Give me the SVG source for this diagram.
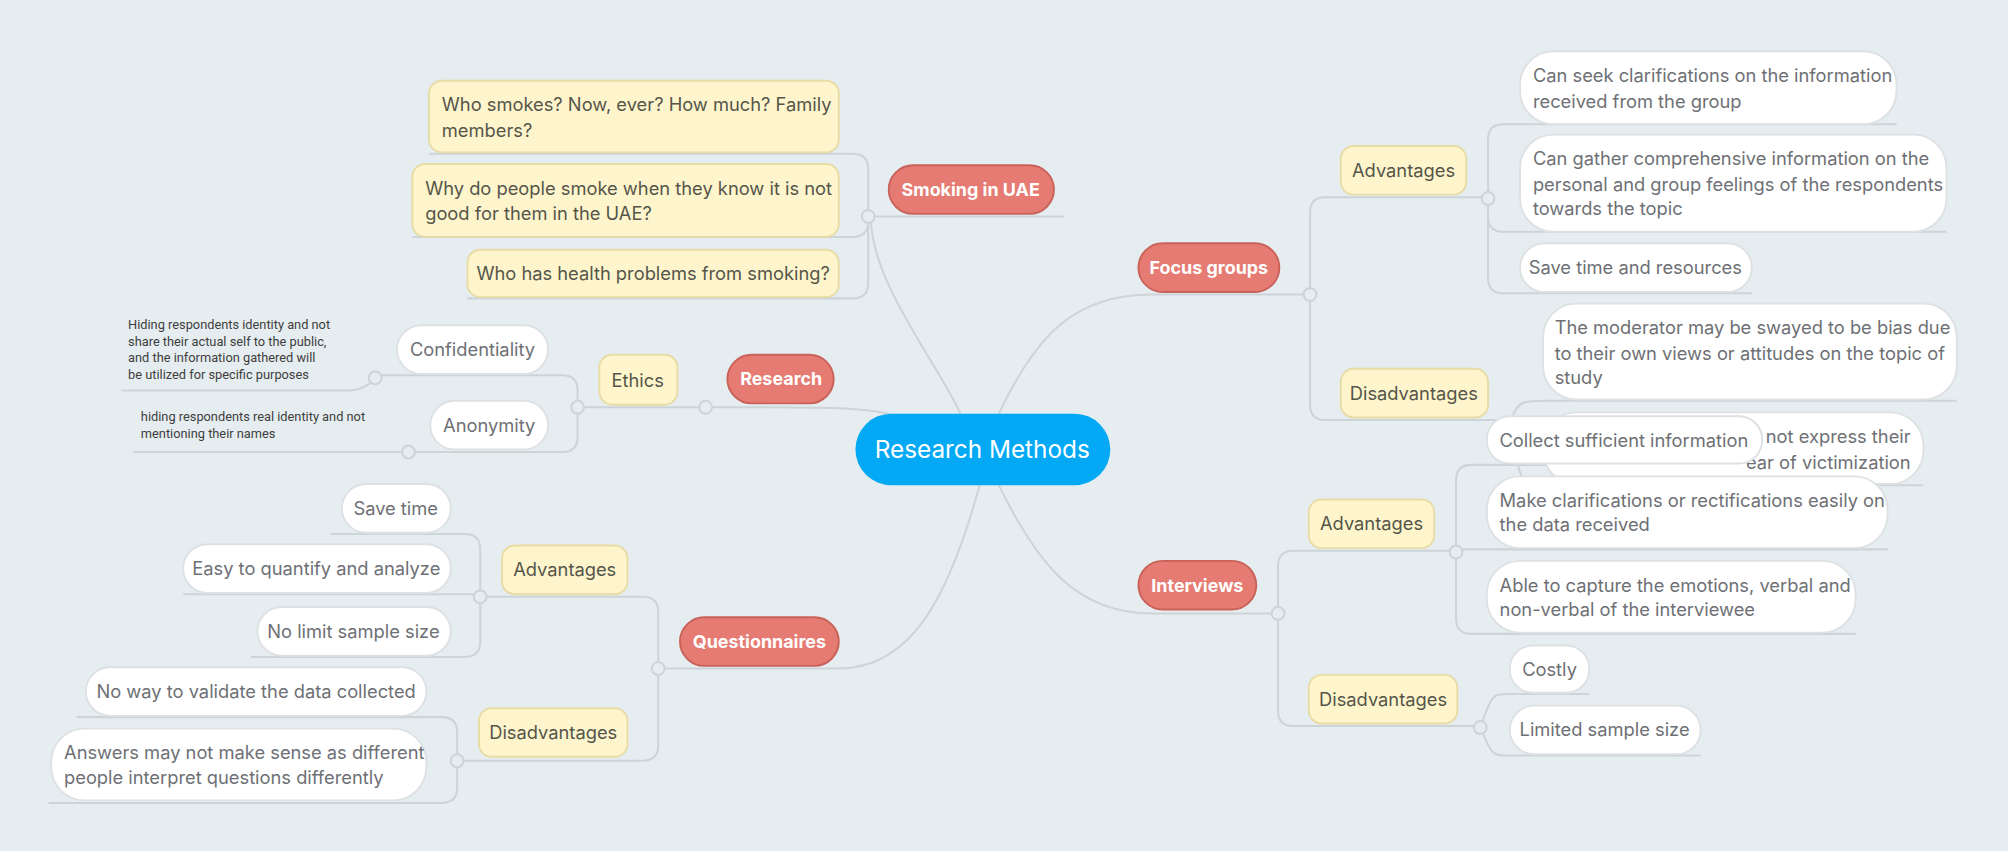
<svg xmlns="http://www.w3.org/2000/svg" width="2008" height="851" viewBox="0 0 2008 851">
<style>
.c{fill:none;stroke:#cdd4d8;stroke-width:1.6}
.j{fill:#e6edf0;stroke:#cdd4d8;stroke-width:1.6}
.t rect{fill:#e57b72;stroke:#c9625a;stroke-width:1.5}
.t text{fill:#fff;font:bold 14px Inter,"Open Sans",sans-serif;text-anchor:middle}
.y rect{fill:#fff5cc;stroke:#e8dca6;stroke-width:1.5}
.y text{fill:#55554a;font:14.3px Inter,"Open Sans",sans-serif}
.w rect{fill:#fff;stroke:#dde1e3;stroke-width:1.5}
.w text{fill:#6e7075;font:14.3px Inter,"Open Sans",sans-serif}
.m{text-anchor:middle}
.n{fill:#3e3e3e;font:10px Roboto,"Liberation Sans",sans-serif}
</style>
<rect width="2008" height="851" fill="#e6edf0"/>
<g transform="scale(1.2806)">
<g id="connectors">
<path class="c" d="M750 323 C730 280 680 220 680 169 H831"/>
<path class="c" d="M705 326 C680 318 660 318 551 318 H451"/>
<path class="c" d="M765 379 C740 470 710 522 655 522 H514"/>
<path class="c" d="M780 323 C810 260 840 230 900 230 H1023"/>
<path class="c" d="M780 379 C810 440 840 479 900 479 H998"/>
<path class="c" d="M678 169 V132 Q678 120 666 120 H335 M678 169 V173 Q678 185 666 185 H322 M678 169 V221 Q678 233 666 233 H365"/>
<path class="c" d="M451 318 V305 Q451 293 439 293 H293 M451 318 V341 Q451 353 439 353 H319"/>
<path class="c" d="M293 295 Q285 305 270 305 H95 M319 353 H104"/>
<path class="c" d="M1023 230 V166 Q1023 154 1035 154 H1162 M1023 230 V316 Q1023 328 1035 328 H1180"/>
<path class="c" d="M1162 155 V109 Q1162 97 1174 97 H1481 M1162 155 V169 Q1162 181 1174 181 H1520 M1162 155 V217 Q1162 229 1174 229 H1368"/>
<path class="c" d="M1180 328 C1185 313 1190 313 1205 313 H1528 M1180 328 C1185 379 1190 379 1205 379 H1502"/>
<path class="c" d="M998 479 V442 Q998 430 1010 430 H1137 M998 479 V555 Q998 567 1010 567 H1156"/>
<path class="c" d="M1137 431 V375 Q1137 363 1149 363 H1376 M1137 431 V429 H1474 M1137 431 V483 Q1137 495 1149 495 H1449"/>
<path class="c" d="M1156 568 C1165 542 1165 542 1179 542 H1241 M1156 568 C1165 590 1165 590 1179 590 H1328"/>
<path class="c" d="M514 522 V478 Q514 466 502 466 H375 M514 522 V582 Q514 594 502 594 H357"/>
<path class="c" d="M375 466 V429 Q375 417 363 417 H258 M375 466 V464 H143 M375 466 V501 Q375 513 363 513 H196"/>
<path class="c" d="M357 594 V572 Q357 560 345 560 H60 M357 594 V615 Q357 627 345 627 H38"/>
</g>
<g id="junctions">
<circle class="j" cx="678" cy="169" r="5"/><circle class="j" cx="551" cy="318" r="5"/><circle class="j" cx="451" cy="318" r="5"/>
<circle class="j" cx="293" cy="295" r="5"/><circle class="j" cx="319" cy="353" r="5"/><circle class="j" cx="1023" cy="230" r="5"/>
<circle class="j" cx="1162" cy="155" r="5"/><circle class="j" cx="998" cy="479" r="5"/><circle class="j" cx="1137" cy="431" r="5"/>
<circle class="j" cx="1156" cy="568" r="5"/><circle class="j" cx="514" cy="522" r="5"/><circle class="j" cx="375" cy="466" r="5"/><circle class="j" cx="357" cy="594" r="5"/>
</g>
<g id="center"><rect x="668" y="323" width="199" height="56" rx="28" fill="#03a9f4"/><text x="767" y="358" fill="#fff" font-family="Inter,'Open Sans',sans-serif" font-size="19" text-anchor="middle">Research Methods</text></g>
<g id="smoking" class="t"><rect x="694" y="129" width="129" height="38" rx="19"/><text x="758" y="153">Smoking in UAE</text></g>
<g id="research" class="t"><rect x="568" y="277" width="83" height="38" rx="19"/><text x="610" y="301">Research</text></g>
<g id="focus" class="t"><rect x="889" y="190" width="110" height="38" rx="19"/><text x="944" y="214">Focus groups</text></g>
<g id="interviews" class="t"><rect x="889" y="438" width="92" height="38" rx="19"/><text x="935" y="462">Interviews</text></g>
<g id="questionnaires" class="t"><rect x="531" y="482" width="124" height="38" rx="19"/><text x="593" y="506">Questionnaires</text></g>
<g id="s1" class="y"><rect x="335" y="63" width="320" height="56" rx="10"/><text x="345" y="87">Who smokes? Now, ever? How much? Family</text><text x="345" y="107">members?</text></g>
<g id="s2" class="y"><rect x="322" y="128" width="333" height="57" rx="10"/><text x="332" y="152">Why do people smoke when they know it is not</text><text x="332" y="172">good for them in the UAE?</text></g>
<g id="s3" class="y"><rect x="365" y="195" width="290" height="37" rx="10"/><text x="510" y="219" class="m">Who has health problems from smoking?</text></g>
<g id="ethics" class="y"><rect x="468" y="277" width="61" height="39" rx="10"/><text x="498" y="302" class="m">Ethics</text></g>
<g id="conf" class="w"><rect x="310" y="254" width="118" height="38" rx="19"/><text x="369" y="278" class="m">Confidentiality</text></g>
<g id="anon" class="w"><rect x="336" y="313" width="92" height="38" rx="19"/><text x="382" y="337" class="m">Anonymity</text></g>
<g id="confnote"><text class="n" x="100" y="257">Hiding respondents identity and not</text><text class="n" x="100" y="270">share their actual self to the public,</text><text class="n" x="100" y="283">and the information gathered will</text><text class="n" x="100" y="296">be utilized for specific purposes</text></g>
<g id="anonnote"><text class="n" x="110" y="329">hiding respondents real identity and not</text><text class="n" x="110" y="342">mentioning their names</text></g>
<g id="fadv" class="y"><rect x="1047" y="114" width="98" height="38" rx="10"/><text x="1096" y="138" class="m">Advantages</text></g>
<g id="fdis" class="y"><rect x="1047" y="288" width="115" height="38" rx="10"/><text x="1104" y="312" class="m">Disadvantages</text></g>
<g id="fa1" class="w"><rect x="1187" y="40" width="294" height="57" rx="26"/><text x="1197" y="64">Can seek clarifications on the information</text><text x="1197" y="84">received from the group</text></g>
<g id="fa2" class="w"><rect x="1187" y="105" width="333" height="76" rx="26"/><text x="1197" y="129">Can gather comprehensive information on the</text><text x="1197" y="149">personal and group feelings of the respondents</text><text x="1197" y="168">towards the topic</text></g>
<g id="fa3" class="w"><rect x="1187" y="190" width="181" height="38" rx="19"/><text x="1277" y="214" class="m">Save time and resources</text></g>
<g id="fd1" class="w"><rect x="1205" y="237" width="323" height="75" rx="26"/><text x="1214" y="261">The moderator may be swayed to be bias due</text><text x="1214" y="281">to their own views or attitudes on the topic of</text><text x="1214" y="300">study</text></g>
<g id="fd2" class="w"><rect x="1205" y="322" width="297" height="56" rx="26"/><text x="1492" y="346" class="m" text-anchor="end" style="text-anchor:end">y not express their</text><text x="1492" y="366" style="text-anchor:end">ear of victimization</text></g>
<g id="iadv" class="y"><rect x="1022" y="390" width="98" height="38" rx="10"/><text x="1071" y="414" class="m">Advantages</text></g>
<g id="idis" class="y"><rect x="1022" y="527" width="116" height="38" rx="10"/><text x="1080" y="551" class="m">Disadvantages</text></g>
<g id="ia1" class="w"><rect x="1161" y="325" width="215" height="37" rx="18"/><text x="1268" y="349" class="m">Collect sufficient information</text></g>
<g id="ia2" class="w"><rect x="1161" y="372" width="313" height="56" rx="26"/><text x="1171" y="396">Make clarifications or rectifications easily on</text><text x="1171" y="415">the data received</text></g>
<g id="ia3" class="w"><rect x="1161" y="438" width="288" height="56" rx="26"/><text x="1171" y="462">Able to capture the emotions, verbal and</text><text x="1171" y="481">non-verbal of the interviewee</text></g>
<g id="id1" class="w"><rect x="1179" y="504" width="62" height="37" rx="18"/><text x="1210" y="528" class="m">Costly</text></g>
<g id="id2" class="w"><rect x="1179" y="551" width="149" height="38" rx="19"/><text x="1253" y="575" class="m">Limited sample size</text></g>
<g id="qadv" class="y"><rect x="392" y="426" width="98" height="38" rx="10"/><text x="441" y="450" class="m">Advantages</text></g>
<g id="qdis" class="y"><rect x="374" y="553" width="116" height="38" rx="10"/><text x="432" y="577" class="m">Disadvantages</text></g>
<g id="qa1" class="w"><rect x="267" y="378" width="85" height="38" rx="19"/><text x="309" y="402" class="m">Save time</text></g>
<g id="qa2" class="w"><rect x="143" y="425" width="209" height="38" rx="19"/><text x="247" y="449" class="m">Easy to quantify and analyze</text></g>
<g id="qa3" class="w"><rect x="201" y="474" width="151" height="38" rx="19"/><text x="276" y="498" class="m">No limit sample size</text></g>
<g id="qd1" class="w"><rect x="67" y="521" width="266" height="38" rx="19"/><text x="200" y="545" class="m">No way to validate the data collected</text></g>
<g id="qd2" class="w"><rect x="40" y="569" width="293" height="56" rx="26"/><text x="50" y="593">Answers may not make sense as different</text><text x="50" y="612">people interpret questions differently</text></g>
</g>
</svg>
